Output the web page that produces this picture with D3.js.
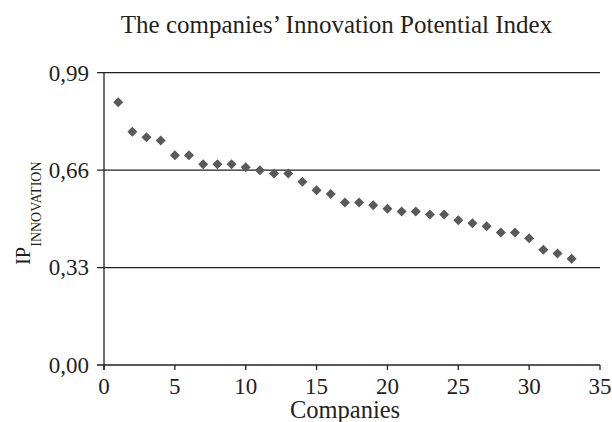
<!DOCTYPE html>
<html><head><meta charset="utf-8">
<script src="https://cdn.jsdelivr.net/npm/d3@7"></script>
<style>body{margin:0;background:#fff;} svg{display:block;} text{font-family:"Liberation Serif","Times New Roman",serif;fill:#231f20;}</style>
</head><body>
<script>
const companies = d3.range(1, 34);
const ipValues = [0.890,0.790,0.771,0.760,0.710,0.710,0.680,0.680,0.680,0.670,
  0.660,0.649,0.649,0.621,0.592,0.579,0.550,0.550,0.541,0.529,
  0.520,0.520,0.510,0.510,0.490,0.480,0.470,0.449,0.449,0.429,
  0.390,0.378,0.360];
const yTicks = [0, 0.33, 0.66, 0.99];
const yTickLabels = ["0,00","0,33","0,66","0,99"];
const xTicks = [0,5,10,15,20,25,30,35];

const W=612,H=422;
const svg=d3.select("body").append("svg").attr("width",W).attr("height",H);
const x=d3.scaleLinear().domain([0,35]).range([104,600]);
const y=d3.scaleLinear().domain([0,0.99]).range([365,72.7]);
const ink="#231f20";

// grid lines + y ticks
svg.append("g").selectAll("line").data(yTicks).join("line")
  .attr("x1",97).attr("x2",x(35)).attr("y1",d=>y(d)).attr("y2",d=>y(d))
  .attr("stroke",ink).attr("stroke-width",1.3);
// y axis
svg.append("line").attr("x1",x(0)).attr("x2",x(0)).attr("y1",y(0.99)).attr("y2",y(0)+5)
  .attr("stroke",ink).attr("stroke-width",1.3);
// x ticks
svg.append("g").selectAll("line").data(xTicks).join("line")
  .attr("x1",d=>x(d)).attr("x2",d=>x(d)).attr("y1",y(0)).attr("y2",y(0)+5)
  .attr("stroke",ink).attr("stroke-width",1.3);
// y tick labels
svg.append("g").selectAll("text").data(yTicks).join("text")
  .attr("x",89).attr("y",d=>y(d)).attr("dy","0.34em").attr("text-anchor","end")
  .attr("font-size",23).text((d,i)=>yTickLabels[i]);
// x tick labels
svg.append("g").selectAll("text").data(xTicks).join("text")
  .attr("x",d=>x(d)).attr("y",394).attr("text-anchor","middle")
  .attr("font-size",23).text(d=>d);
// markers
svg.append("g").selectAll("path").data(companies).join("path")
  .attr("d",d3.symbol(d3.symbolSquare,50))
  .attr("transform",(d,i)=>`translate(${x(d)},${y(ipValues[i])}) rotate(45)`)
  .attr("fill","#595959");
// title
svg.append("text").attr("x",336.5).attr("y",32.5).attr("text-anchor","middle")
  .attr("font-size",25).text("The companies\u2019 Innovation Potential Index");
// x label
svg.append("text").attr("x",345).attr("y",418).attr("text-anchor","middle")
  .attr("font-size",24.5).text("Companies");
// y label
const yl=svg.append("text").attr("transform","translate(30,265) rotate(-90)");
yl.append("tspan").attr("font-size",20.5).text("IP");
yl.append("tspan").attr("font-size",14).attr("dy",11).text("INNOVATION");
</script>
</body></html>
